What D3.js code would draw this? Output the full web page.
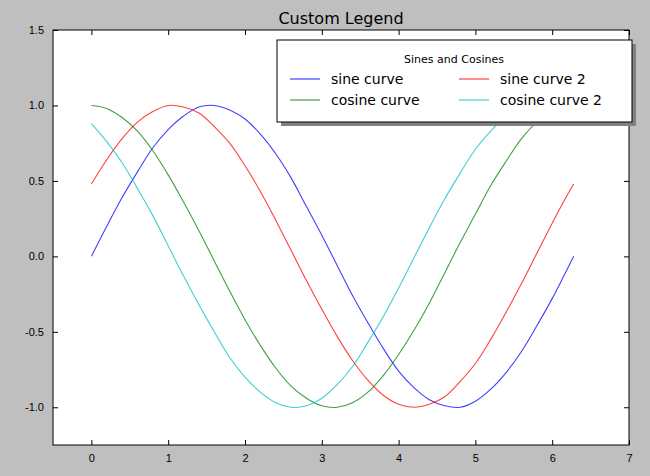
<!DOCTYPE html><html><head><meta charset="utf-8"><script src="https://d3js.org/d3.v7.min.js"></script>
<style>body{margin:0;background:#bfbfbf}svg{font-family:"DejaVu Sans",sans-serif}</style></head><body>
<script>
const xs=[0,0.2,0.4,0.6,0.8,1.0,1.2,1.4,1.6,1.8,2.0,2.2,2.4,2.6,2.8,3.0,3.2,3.4,3.6,3.8,4.0,4.2,4.4,4.6,4.8,5.0,5.2,5.4,5.6,5.8,6.0,6.2,6.28];
const sine=[0,.20,.39,.56,.72,.84,.93,.99,1.00,.97,.91,.81,.68,.52,.33,.14,-.06,-.26,-.44,-.61,-.76,-.87,-.95,-.99,-1.00,-.96,-.88,-.77,-.63,-.46,-.28,-.08,0];
const cosine=[1,.98,.92,.83,.70,.54,.36,.17,-.03,-.23,-.42,-.59,-.74,-.86,-.94,-.99,-1.00,-.97,-.90,-.79,-.65,-.49,-.31,-.11,.09,.28,.47,.63,.78,.89,.96,1.00,1.00];
const sine2=[.48,.64,.78,.89,.96,1.00,.99,.95,.86,.75,.60,.43,.24,.04,-.16,-.35,-.53,-.69,-.82,-.92,-.98,-1.00,-.98,-.93,-.83,-.71,-.55,-.37,-.18,.02,.22,.41,.48];
const cosine2=[.88,.76,.62,.45,.27,.07,-.13,-.32,-.50,-.67,-.80,-.90,-.97,-1.00,-.99,-.94,-.85,-.73,-.57,-.40,-.21,-.01,.19,.38,.55,.71,.83,.93,.98,1.00,.98,.91,.88];
const seriesNames=["sine curve","cosine curve","sine curve 2","cosine curve 2"];
const xTicks=[0,1,2,3,4,5,6,7], yTicks=[-1.0,-0.5,0.0,0.5,1.0,1.5];
const series=[sine,cosine,sine2,cosine2], colors=["#0000ff","#008000","#ff0000","#00bfbf"];
const W=650,H=476,L=53,R=629,T=30,B=445;
const svg=d3.select("body").append("svg").attr("width",W).attr("height",H);
const x=d3.scaleLinear().domain([-0.5,7]).range([L,R]);
const y=d3.scaleLinear().domain([-1.25,1.5]).range([B,T]);
svg.append("rect").attr("x",L).attr("y",T).attr("width",R-L).attr("height",B-T).attr("fill","#fff");
const line=d3.line().x((d,i)=>x(xs[i])).y(d=>y(d)).curve(d3.curveCatmullRom.alpha(0.5));
series.forEach((s,k)=>svg.append("path").attr("d",line(s)).attr("fill","none").attr("stroke",colors[k]).attr("stroke-opacity",0.75).attr("stroke-width",1.1));
const fmt=v=>d3.format(".1f")(v).replace("−","-");
svg.append("g").attr("transform",`translate(0,${B})`).call(d3.axisBottom(x).tickValues(xTicks).tickFormat(d3.format("d")).tickSizeInner(-5).tickSizeOuter(0).tickPadding(9));
svg.append("g").attr("transform",`translate(0,${T})`).call(d3.axisTop(x).tickValues(xTicks).tickFormat("").tickSizeInner(-5).tickSizeOuter(0));
svg.append("g").attr("transform",`translate(${L},0)`).call(d3.axisLeft(y).tickValues(yTicks).tickFormat(fmt).tickSizeInner(-5).tickSizeOuter(0).tickPadding(9));
svg.append("g").attr("transform",`translate(${R},0)`).call(d3.axisRight(y).tickValues(yTicks).tickFormat("").tickSizeInner(-5).tickSizeOuter(0));
svg.selectAll(".domain").remove();
svg.selectAll(".tick text").attr("font-size",11).attr("fill","#000");
svg.append("rect").attr("x",L).attr("y",T).attr("width",R-L).attr("height",B-T).attr("fill","none").attr("stroke","#000");
svg.append("text").attr("x",(L+R)/2).attr("y",24).attr("text-anchor","middle").attr("font-size",16).text("Custom Legend");
svg.append("rect").attr("x",281).attr("y",44).attr("width",355).attr("height",82).attr("fill","#808080");
svg.append("rect").attr("x",277).attr("y",40).attr("width",355).attr("height",82).attr("fill","#fff").attr("stroke","#000");
svg.append("text").attr("x",454).attr("y",63).attr("text-anchor","middle").attr("font-size",11).text("Sines and Cosines");
const pos=[[290,79],[290,100],[459,79],[459,100]];
series.forEach((s,k)=>{const [px,py]=pos[k];
 svg.append("line").attr("x1",px).attr("x2",px+30).attr("y1",py).attr("y2",py).attr("stroke",colors[k]).attr("stroke-opacity",0.75).attr("stroke-width",1.2);
 svg.append("text").attr("x",px+41).attr("y",py+5).attr("font-size",14).text(seriesNames[k]);});
</script></body></html>
